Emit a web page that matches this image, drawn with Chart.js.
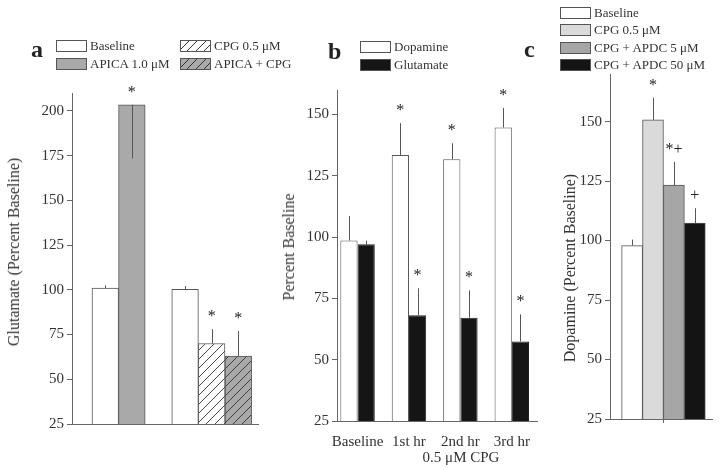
<!DOCTYPE html>
<html>
<head>
<meta charset="utf-8">
<script src="https://cdn.jsdelivr.net/npm/chart.js@4.4.1/dist/chart.umd.min.js"></script>
<style>
  body { margin: 0; background: #fff; width: 720px; height: 468px; position: relative; overflow: hidden;
         font-family: "Liberation Serif", "DejaVu Serif", serif; color: #333; }
  canvas { position: absolute; top: 0; }
  .t { position: absolute; white-space: nowrap; }
  .letter { font-weight: bold; font-size: 24px; color: #222; }
  .ytitle { font-size: 16px; transform: translate(-50%, -50%) rotate(-90deg); }
  .box { position: absolute; width: 29px; height: 10px; border: 1px solid #555; box-sizing: content-box; }
  .lbl { position: absolute; font-size: 13px; line-height: 13px; white-space: nowrap; }
</style>
</head>
<body>
<canvas id="chartA" width="270" height="468" style="left:0"></canvas>
<canvas id="chartB" width="275" height="468" style="left:270px"></canvas>
<canvas id="chartC" width="175" height="468" style="left:545px"></canvas>

<div class="t letter" style="left:31px;top:36px">a</div>
<div class="t letter" style="left:328px;top:38px">b</div>
<div class="t letter" style="left:524px;top:36px">c</div>

<div class="t ytitle" style="left:14px;top:252px">Glutamate (Percent Baseline)</div>
<div class="t ytitle" style="left:289px;top:247px">Percent Baseline</div>
<div class="t ytitle" style="left:570px;top:268px">Dopamine (Percent Baseline)</div>
<div class="t" style="left:461px;top:449px;font-size:15px;transform:translateX(-50%)">0.5 μM CPG</div>

<script>
// panel a -- glutamate, APICA / CPG
const aNames = ['Baseline', 'APICA 1.0 μM', 'CPG 0.5 μM', 'APICA + CPG'];
const baseA = [101, 100.3];
const baseAErr = [1.5, 1.8];
const apicaA = [203.4];
const apicaAErr = [-30];
const cpgA = [70];
const cpgAErr = [8];
const apicaCpgA = [63];
const apicaCpgAErr = [14];
const apicaMarks = ['*'];
const cpgMarks = ['*'];
const apicaCpgMarks = ['*'];

// panel b -- dopamine / glutamate over time
const bNames = ['Dopamine', 'Glutamate'];
const timeLabels = ['Baseline', '1st hr', '2nd hr', '3rd hr'];
const dopamineB = [98.6, 133.5, 131.8, 144.7];
const dopamineBErr = [10, 13, 6.5, 8];
const glutamateB = [97.1, 68.1, 67.1, 57.4];
const glutamateBErr = [1.4, 11, 11.2, 11.1];
const dopMarks = ['', '*', '*', '*'];
const glutMarks = ['', '*', '*', '*'];

// panel c -- dopamine, CPG + APDC
const cNames = ['Baseline', 'CPG 0.5 μM', 'CPG + APDC 5 μM', 'CPG + APDC 50 μM'];
const dopamineC = [97.9, 150.7, 123.3, 107.3];
const dopamineCErr = [2.5, 9.3, 9.7, 6.3];
const cMarks = ['', '*', '*+', '+'];

const yTicks = [25, 50, 75, 100, 125, 150, 175, 200];

const tickFont = { family: 'Liberation Serif', size: 15 };
const ink = '#333';
const edge = '#555';

function hatch(bg) {
  const c = document.createElement('canvas');
  c.width = 9; c.height = 9;
  const g = c.getContext('2d');
  g.fillStyle = bg;
  g.fillRect(0, 0, 9, 9);
  g.strokeStyle = '#333';
  g.lineWidth = 0.9;
  g.beginPath();
  g.moveTo(0, 9); g.lineTo(9, 0);
  g.moveTo(-1, 1); g.lineTo(1, -1);
  g.moveTo(8, 10); g.lineTo(10, 8);
  g.stroke();
  return g.createPattern(c, 'repeat');
}

// error bars + significance marks
const errPlugin = {
  id: 'errs',
  afterDatasetsDraw(chart) {
    const ctx = chart.ctx;
    const ys = chart.scales.y;
    ctx.save();
    chart.data.datasets.forEach((ds, i) => {
      const meta = chart.getDatasetMeta(i);
      meta.data.forEach((bar, j) => {
        const v = ds.data[j].y;
        const tip = ys.getPixelForValue(v + ds.err[j]);
        ctx.strokeStyle = '#555';
        ctx.lineWidth = 1;
        ctx.beginPath();
        ctx.moveTo(Math.round(bar.x) + 0.5, bar.y);
        ctx.lineTo(Math.round(bar.x) + 0.5, tip);
        ctx.stroke();
        const m = ds.marks ? ds.marks[j] : '';
        if (m) {
          ctx.fillStyle = '#222';
          ctx.font = '16px "Liberation Serif"';
          ctx.textAlign = 'center';
          ctx.textBaseline = 'alphabetic';
          ctx.fillText(m, bar.x, Math.min(bar.y, tip) - 8);
        }
      });
    });
    ctx.restore();
  }
};

function pts(xs, vals) {
  return vals.map((v, k) => ({ x: xs[k], y: v }));
}

function makeChart(id, datasets, o) {
  return new Chart(document.getElementById(id), {
    type: 'bar',
    data: { datasets: datasets },
    options: {
      responsive: false,
      animation: false,
      layout: { padding: { top: o.top, right: o.right, left: 0, bottom: 0 } },
      plugins: { legend: { display: false }, tooltip: { enabled: false } },
      scales: {
        x: {
          type: 'linear',
          offset: false,
          min: o.xmin,
          max: o.xmax,
          afterFit: s => { s.height = o.xh; },
          afterBuildTicks: s => { s.ticks = o.xticks.map(v => ({ value: v })); },
          grid: { display: o.xgrid, offset: false, drawOnChartArea: false, tickLength: 4, color: '#666' },
          border: { color: '#666' },
          ticks: {
            display: o.xlabels != null,
            autoSkip: false,
            maxRotation: 0,
            padding: 8,
            font: tickFont,
            color: ink,
            callback: v => (o.xlabels ? o.xlabels[v] : '')
          }
        },
        y: {
          min: 25,
          max: o.ymax,
          afterFit: s => { s.width = o.yw; },
          afterBuildTicks: s => { s.ticks = yTicks.filter(v => v <= o.ymax).map(v => ({ value: v })); },
          grid: { drawOnChartArea: false, tickLength: 5, color: '#666' },
          border: { color: '#666' },
          ticks: { padding: 3, font: tickFont, color: ink }
        }
      }
    },
    plugins: [errPlugin]
  });
}

const gray = '#a9a9a9';
const aFills = ['#ffffff', gray, hatch('#ffffff'), hatch(gray)];
const barStyle = { borderColor: edge, borderWidth: 1, barPercentage: 1, categoryPercentage: 1, grouped: false };

makeChart('chartA', [
  Object.assign({ label: aNames[0], data: pts([0, 3], baseA), err: baseAErr, backgroundColor: aFills[0] }, barStyle),
  Object.assign({ label: aNames[1], data: pts([1], apicaA), err: apicaAErr, marks: apicaMarks, backgroundColor: aFills[1] }, barStyle),
  Object.assign({ label: aNames[2], data: pts([4], cpgA), err: cpgAErr, marks: cpgMarks, backgroundColor: aFills[2] }, barStyle),
  Object.assign({ label: aNames[3], data: pts([5], apicaCpgA), err: apicaCpgAErr, marks: apicaCpgMarks, backgroundColor: aFills[3] }, barStyle)
], { top: 93, right: 12, xh: 44, yw: 72, ymax: 210, xmin: -1.25, xmax: 5.74, xticks: [], xgrid: false, xlabels: null });

const bFills = ['#ffffff', '#151515'];
makeChart('chartB', [
  { label: bNames[0], data: pts([0, 1, 2, 3], dopamineB), err: dopamineBErr, marks: dopMarks,
    backgroundColor: bFills[0], borderColor: edge, borderWidth: 1, barPercentage: 1, categoryPercentage: 0.67 },
  { label: bNames[1], data: pts([0, 1, 2, 3], glutamateB), err: glutamateBErr, marks: glutMarks,
    backgroundColor: bFills[1], borderColor: '#222', borderWidth: 1, barPercentage: 1, categoryPercentage: 0.67 }
], { top: 90, right: 8, xh: 47, yw: 67, ymax: 160, xmin: -0.4, xmax: 3.49, xticks: [0, 1, 2, 3], xgrid: false, xlabels: timeLabels });

const cFills = ['#ffffff', '#dadada', '#a6a6a6', '#141414'];
makeChart('chartC', cNames.map((n, k) => Object.assign({
  label: n, data: pts([k], [dopamineC[k]]), err: [dopamineCErr[k]], marks: [cMarks[k]], backgroundColor: cFills[k]
}, barStyle)), { top: 74, right: 8, xh: 49, yw: 65, ymax: 170, xmin: -1.055, xmax: 3.82, xticks: [1.5], xgrid: true, xlabels: null });

// html legends
const cssHatch = bg => 'repeating-linear-gradient(135deg, ' + bg + ' 0 5px, #333 5px 6px)';
function legendItem(x, y, name, bg) {
  const b = document.createElement('div');
  b.className = 'box';
  b.style.left = x + 'px';
  b.style.top = y + 'px';
  b.style.background = bg;
  document.body.appendChild(b);
  const t = document.createElement('div');
  t.className = 'lbl';
  t.style.left = (x + 34) + 'px';
  t.style.top = (y - 1) + 'px';
  t.textContent = name;
  document.body.appendChild(t);
}
legendItem(56, 40, aNames[0], '#fff');
legendItem(56, 58, aNames[1], gray);
legendItem(180, 40, aNames[2], cssHatch('#fff'));
legendItem(180, 58, aNames[3], cssHatch(gray));
legendItem(360, 41, bNames[0], '#fff');
legendItem(360, 59, bNames[1], '#151515');
cNames.forEach((n, k) => legendItem(560, 7 + k * 17.3, n, cFills[k]));
</script>
</body>
</html>
